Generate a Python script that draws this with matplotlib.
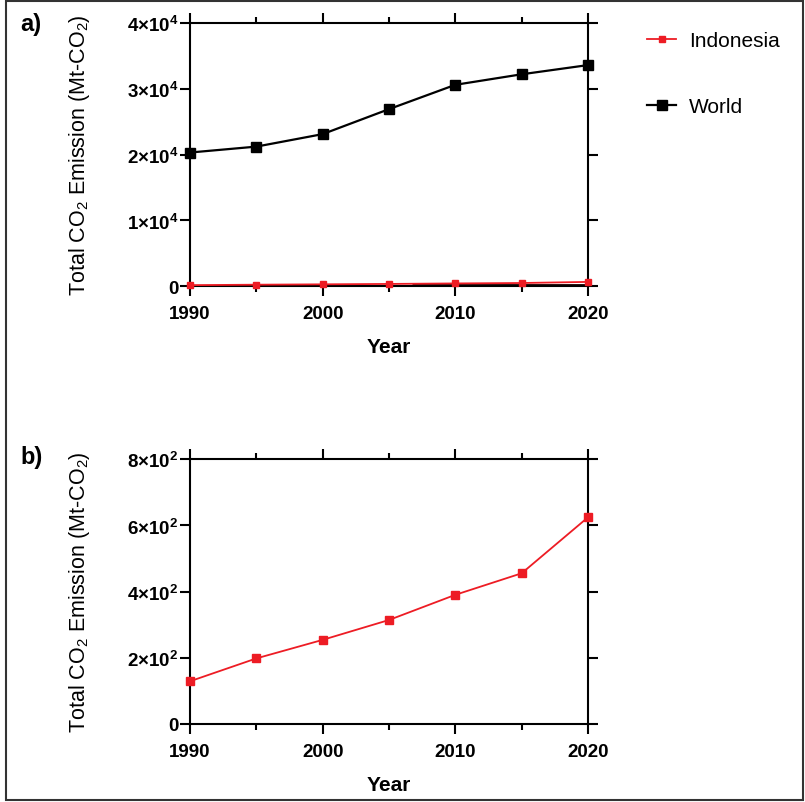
import matplotlib
matplotlib.use('Agg')
from matplotlib import pyplot as plt
from matplotlib.patches import Rectangle
from matplotlib.ticker import FixedLocator

plt.rcParams['font.family'] = ['Liberation Sans', 'DejaVu Sans']
plt.rcParams['mathtext.fontset'] = 'custom'
plt.rcParams['mathtext.rm'] = 'Liberation Sans'
plt.rcParams['mathtext.bf'] = 'Liberation Sans:bold'

# data
years = [1990, 1995, 2000, 2005, 2010, 2015, 2020]
world = [20300, 21200, 23100, 26900, 30600, 32200, 33600]
indonesia = [129, 198, 254, 314, 390, 455, 624]

x_major = [1990, 2000, 2010, 2020]
x_minor = [1995, 2005, 2015]
a_yticks = [0, 10000, 20000, 30000, 40000]
a_ylabels = ['0', '1×10$^{\\mathregular{4}}$', '2×10$^{\\mathregular{4}}$',
             '3×10$^{\\mathregular{4}}$', '4×10$^{\\mathregular{4}}$']
b_yticks = [0, 200, 400, 600, 800]
b_ylabels = ['0', '2×10$^{\\mathregular{2}}$', '4×10$^{\\mathregular{2}}$',
             '6×10$^{\\mathregular{2}}$', '8×10$^{\\mathregular{2}}$']

RED = '#ed1c24'
ylab = 'Total CO$_{\\mathregular{2}}$ Emission (Mt-CO$_{\\mathregular{2}}$)'


def style_axes(ax, yticks, ylabels):
    ax.set_xlim(1990, 2020)
    ax.set_ylim(yticks[0], yticks[-1])
    ax.xaxis.set_major_locator(FixedLocator(x_major))
    ax.xaxis.set_minor_locator(FixedLocator(x_minor))
    ax.set_yticks(yticks)
    ax.set_yticklabels(ylabels)
    for s in ax.spines.values():
        s.set_linewidth(1.5)
    ax.tick_params(which='both', direction='out', top=True, right=True,
                   width=1.5, labelsize=13.5)
    ax.tick_params(which='major', length=7.5)
    ax.tick_params(which='minor', length=4)
    ax.tick_params(axis='x', pad=6)
    ax.tick_params(axis='y', pad=1)
    for t in ax.get_xticklabels() + ax.get_yticklabels():
        t.set_fontweight('bold')
    ax.set_xlabel('Year', fontsize=15, fontweight='bold', labelpad=11)
    ax.set_ylabel(ylab, fontsize=15.5)
    ax.yaxis.set_label_coords(-0.245, 0.5)


fig = plt.figure(figsize=(8.05, 8.03), dpi=100)

ax1 = fig.add_axes([190 / 805, 1 - 287 / 803, 398 / 805, 263 / 803])
ax1.hlines(0, 2006.7, 2020, color='#200000', lw=3.5, zorder=2)
ax1.plot(years, indonesia, color=RED, lw=1.3, marker='s', ms=5,
         label='Indonesia', clip_on=False, zorder=3)
ax1.plot(years, world, color='black', lw=1.6, marker='s', ms=7.5,
         label='World', clip_on=False, zorder=3)
style_axes(ax1, a_yticks, a_ylabels)

ax2 = fig.add_axes([190 / 805, 1 - 725 / 803, 398 / 805, 265 / 803])
ax2.plot(years, indonesia, color=RED, lw=1.3, marker='s', ms=6,
         clip_on=False, zorder=3)
style_axes(ax2, b_yticks, b_ylabels)

fig.legend(loc='upper left', bbox_to_anchor=(647 / 805, 1 - 32 / 803),
           frameon=False, fontsize=15, borderpad=0, borderaxespad=0,
           handlelength=1.4, handletextpad=0.6, labelspacing=2.25)

fig.text(20 / 805, 1 - 25 / 803, 'a)', fontsize=17, fontweight='bold', va='center')
fig.text(20 / 805, 1 - 458 / 803, 'b)', fontsize=17, fontweight='bold', va='center')

fig.patches.append(Rectangle((6 / 805, 2 / 803), 797 / 805, 799 / 803,
                             transform=fig.transFigure, fill=False,
                             edgecolor='#333333', lw=1.5))

fig.savefig('out.png', dpi=100)
